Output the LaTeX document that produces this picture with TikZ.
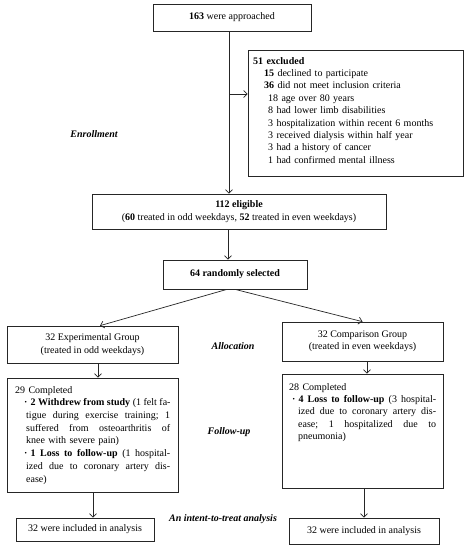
\documentclass[tikz,border=0pt]{standalone}
\usepackage{fontspec}
\setmainfont{Liberation Serif}
\usetikzlibrary{arrows.meta,calc}
\newcommand{\jline}[2]{\hbox to #1{\frenchspacing\spaceskip=0.25em plus 1fil\relax #2}}
\begin{document}
\begin{tikzpicture}[x=1pt,y=-1pt,
  box/.style={draw=black!85, line width=0.7pt, inner sep=0pt, align=center,
     font=\fontsize{10}{12.4}\selectfont},
  txt/.style={inner sep=0pt, anchor=north west, align=left},
  lab/.style={inner sep=0pt, font=\fontsize{10}{12}\selectfont\bfseries\itshape},
  arr/.style={draw=black!85, line width=0.7pt, -{Straight Barb[length=3.5pt,width=7pt]}}]
\useasboundingbox (0,0) rectangle (469,550);
\fill[white] (0,0) rectangle (469,550);

% boxes
\node[box, minimum width=158pt, minimum height=27pt] (A) at (232,17.5) {\textbf{163} were approached};
\node[box, minimum width=215pt, minimum height=126pt] (Excl) at (355.5,113) {};
\node[box, minimum width=294pt, minimum height=35pt] (Elig) at (239,211.5)
  {\textbf{112 eligible}\\(\textbf{60} treated in odd weekdays, \textbf{52} treated in even weekdays)};
\node[box, minimum width=144pt, minimum height=29pt] (Rand) at (235,274.5) {\textbf{64 randomly selected}};
\node[box, minimum width=171pt, minimum height=37pt] (Exp) at (92.5,344.5) {32 Experimental Group\\(treated in odd weekdays)};
\node[box, minimum width=161pt, minimum height=39pt] (Comp) at (362.5,341.5) {32 Comparison Group\\(treated in even weekdays)};
\node[box, minimum width=171pt, minimum height=114pt] (ExpC) at (92.5,435) {};
\node[box, minimum width=161pt, minimum height=114pt] (CompC) at (362.5,431) {};
\node[box, minimum width=138pt, minimum height=23pt] (ExpA) at (85,529.5) {32 were included in analysis};
\node[box, minimum width=150pt, minimum height=26pt] (CompA) at (364,531) {32 were included in analysis};

% box texts
\node[txt, text width=205pt, font=\fontsize{10}{12.4}\selectfont] (ExclT) at (253,57) {%
\textbf{51 excluded}\\
\hspace*{11pt}\textbf{15} declined to participate\\
\hspace*{11pt}\textbf{36} did not meet inclusion criteria\\
\hspace*{15pt}18 age over 80 years\\
\hspace*{15pt}8 had lower limb disabilities\\
\hspace*{15pt}3 hospitalization within recent 6 months\\
\hspace*{15pt}3 received dialysis within half year\\
\hspace*{15pt}3 had a history of cancer\\
\hspace*{15pt}1 had confirmed mental illness};

\node[txt, text width=155pt, font=\fontsize{10}{12.7}\selectfont] (ExpCT) at (15,386) {%
29 Completed\\
\hspace*{9pt}\jline{146pt}{\textbf{·}\hspace{3pt}\textbf{2 Withdrew from study} (1 felt fa-}\\
\hspace*{11pt}\jline{144pt}{tigue during exercise training; 1}\\
\hspace*{11pt}\jline{144pt}{suffered from osteoarthritis of}\\
\hspace*{11pt}knee with severe pain)\\
\hspace*{9pt}\jline{146pt}{\textbf{·}\hspace{3pt}\textbf{1 Loss to follow-up} (1 hospital-}\\
\hspace*{11pt}\jline{144pt}{ized due to coronary artery dis-}\\
\hspace*{11pt}ease)};

\node[txt, text width=147pt, font=\fontsize{10}{12.3}\selectfont] (CompCT) at (289,383) {%
28 Completed\\
\hspace*{3pt}\jline{144pt}{\textbf{·}\hspace{3pt}\textbf{4 Loss to follow-up} (3 hospital-}\\
\hspace*{9pt}\jline{138pt}{ized due to coronary artery dis-}\\
\hspace*{9pt}\jline{138pt}{ease; 1 hospitalized due to}\\
\hspace*{9pt}pneumonia)};

% stage labels
\node[lab] (L1) at (94,134) {Enrollment};
\node[lab] (L2) at (233,346) {Allocation};
\node[lab] (L3) at (229,432) {Follow-up};
\node[lab] (L4) at (223,519) {An intent-to-treat analysis};

% connectors
\draw[arr] (A.south) ++(-3,0) coordinate (t1) -- (t1 |- Elig.north);
\coordinate (br) at (229,94);
\draw[arr] (br) -- (br -| Excl.west);
\draw[arr] (Elig.south) ++(-11,0) coordinate (t2) -- (t2 |- Rand.north);
\draw[arr] ($(Rand.south)+(-8,0)$) -- ($(Exp.north)+(7.5,0)$);
\draw[arr] (Rand.south) -- (Comp.north);
\draw[arr] (Exp.south) ++(5.5,0) coordinate (t3) -- (t3 |- ExpC.north);
\draw[arr] (Comp.south) ++(4.5,0) coordinate (t4) -- (t4 |- CompC.north);
\draw[arr] (ExpC.south) ++(0.5,0) coordinate (t5) -- (t5 |- ExpA.north);
\draw[arr] (CompC.south) ++(1.5,0) coordinate (t6) -- (t6 |- CompA.north);
\end{tikzpicture}
\end{document}
